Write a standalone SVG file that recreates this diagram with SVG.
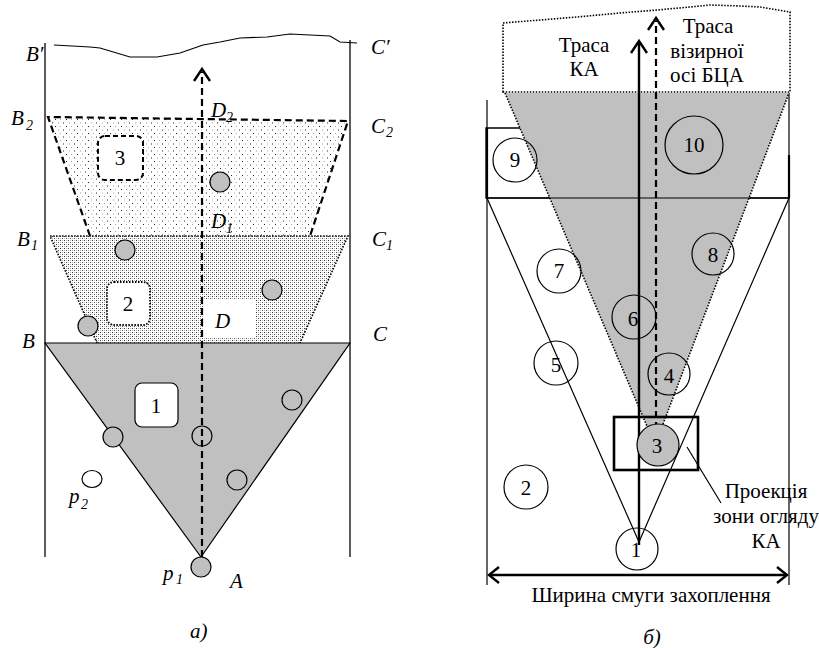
<svg xmlns="http://www.w3.org/2000/svg" width="819" height="648" viewBox="0 0 819 648">
<defs>
<style>
.t{font-family:"Times New Roman","Liberation Serif",serif;font-size:21px;fill:#000}
.it{font-style:italic}
.sub{font-style:italic;font-size:14px}
.c{text-anchor:middle}
.ln{fill:none;stroke:#000;stroke-width:1.2}
.bd{fill:none;stroke:#333;stroke-width:1.6}
.gc{fill:#c0c0c0;stroke:#000;stroke-width:1.2}
.oc{fill:none;stroke:#000;stroke-width:1.2}
.dash{fill:none;stroke:#000;stroke-width:2.2;stroke-dasharray:7 4}
.dot{fill:none;stroke:#000;stroke-width:1.6;stroke-dasharray:1.5 1.5}
.arr{fill:none;stroke:#000;stroke-width:2.4}
</style>
<pattern id="p3" width="11" height="7" patternUnits="userSpaceOnUse">
<rect width="11" height="7" fill="#fff"/>
<rect x="0" y="0" width="1" height="1" fill="#222"/>
<rect x="5" y="0" width="1" height="1" fill="#aaa"/>
<rect x="3" y="3.5" width="1" height="1" fill="#aaa"/>
<rect x="8" y="3.5" width="1" height="1" fill="#222"/>
</pattern>
<pattern id="p2" width="4" height="4" patternUnits="userSpaceOnUse">
<rect width="4" height="4" fill="#fff"/>
<rect x="0" y="0" width="1" height="1" fill="#333"/>
<rect x="2" y="2" width="1" height="1" fill="#555"/>
<rect x="2" y="0" width="1" height="1" fill="#bbb"/>
<rect x="0" y="2" width="1" height="1" fill="#bbb"/>
</pattern>
</defs>

<g id="panel-a">
<g id="a-frame">
<line class="bd" x1="45" y1="43" x2="45" y2="557"/>
<line class="bd" x1="350" y1="40" x2="350" y2="557"/>
<polyline class="ln" points="54,45 90,47 100,48 130,57 157,57 180,53 203,45 220,42 240,38 267,37 290,34 330,36 340,42 357,43"/>
</g>
<g id="zone3">
<polygon points="48,117 348,121 310,236 90,236" fill="url(#p3)"/>
<polyline class="dash" points="90,236 48,117 348,121 310,236"/>
</g>
<g id="zone2">
<polygon points="50,236 348,236 300,343 97,343" fill="url(#p2)"/>
<polyline class="dot" points="97,343 50,236 348,236 300,343"/>
<rect x="204" y="300" width="51" height="37" fill="#fff"/>
</g>
<g id="zone1">
<polygon points="45,343 350,343 201,557" fill="#c0c0c0" stroke="#000" stroke-width="1.2"/>
</g>
<g id="box3"><rect x="98" y="136" width="45" height="44" rx="7" fill="#fff" stroke="#000" stroke-width="2" stroke-dasharray="5 3"/><text class="t c" x="120" y="165">3</text></g>
<g id="box2"><rect x="107" y="282" width="43" height="43" rx="7" fill="#fff" stroke="#000" stroke-width="1.8" stroke-dasharray="1.5 1.5"/><text class="t c" x="128" y="311">2</text></g>
<g id="box1"><rect x="135" y="383" width="43" height="44" rx="7" fill="#fff" stroke="#000" stroke-width="1.2"/><text class="t c" x="156" y="413">1</text></g>
<g id="a-targets">
<circle class="gc" cx="220" cy="182" r="10"/>
<circle class="gc" cx="125" cy="250" r="10"/>
<circle class="gc" cx="272" cy="290" r="10"/>
<circle class="gc" cx="88" cy="326" r="10"/>
<circle class="gc" cx="292" cy="400" r="10"/>
<circle class="gc" cx="113" cy="437" r="10"/>
<circle class="gc" cx="202" cy="436" r="10"/>
<circle class="gc" cx="237" cy="480" r="10"/>
<ellipse cx="92" cy="479" rx="10" ry="8.5" fill="#fff" stroke="#000" stroke-width="1.2"/>
<circle class="gc" cx="201" cy="567" r="10"/>
</g>
<g id="a-connectors">
<line class="dash" x1="202" y1="557" x2="202" y2="72"/>
<polyline class="arr" points="194,81 202,69 210,81"/>
</g>
<g id="a-labels">
<text class="t it" x="26" y="61">B′</text>
<text class="t it" x="371" y="54">C′</text>
<text class="t it" x="11" y="125">B</text><text class="t sub" x="26" y="130">2</text>
<text class="t it" x="371" y="133">C</text><text class="t sub" x="386" y="137">2</text>
<text class="t it" x="211" y="117">D</text><text class="t sub" x="226" y="122">2</text>
<text class="t it" x="211" y="228">D</text><text class="t sub" x="226" y="233">1</text>
<text class="t it" x="17" y="246">B</text><text class="t sub" x="31" y="250">1</text>
<text class="t it" x="372" y="246">C</text><text class="t sub" x="386" y="250">1</text>
<text class="t it" x="215" y="328">D</text>
<text class="t it" x="22" y="348">B</text>
<text class="t it" x="373" y="341">C</text>
<text class="t it" x="69" y="503">p</text><text class="t sub" x="81" y="509">2</text>
<text class="t it" x="163" y="580">p</text><text class="t sub" x="176" y="584">1</text>
<text class="t it" x="230" y="588">A</text>
<text class="t it" x="190" y="638">a)</text>
</g>
</g>

<g id="panel-b">
<g id="b-frame">
<line class="ln" x1="487" y1="100" x2="487" y2="585"/>
<line class="ln" x1="789" y1="93" x2="789" y2="585"/>
<polyline fill="none" stroke="#000" stroke-width="1.3" points="530,128 486,128 486,198 789,198"/>
<line x1="487" y1="128" x2="487" y2="198" stroke="#000" stroke-width="2.2"/>
<line x1="789" y1="155" x2="789" y2="198" stroke="#000" stroke-width="2.2"/>
<path class="dot" d="M503,92 L503,23 L540,20 L577,17 L620,13 L657,10 L690,7 L710,5 L740,6 L760,7 L790,12 L790,92 Z"/>
</g>
<g id="view-zone">
<polygon points="505,93 789,93 655,445" fill="#c0c0c0"/>
<polyline class="dot" points="505,93 655,445 789,93"/>
</g>
<g id="swath-zone">
<polygon class="ln" points="487,198 789,198 639,542"/>
</g>
<g id="b-connectors">
<line class="arr" x1="639" y1="545" x2="639" y2="42"/>
<polyline class="arr" points="631,53 639,41 647,53"/>
<line class="dash" x1="656" y1="440" x2="656" y2="21"/>
<polyline class="arr" points="648,30 656,18 664,30"/>
<line class="ln" x1="687" y1="447" x2="721" y2="503"/>
<line class="arr" x1="489" y1="575" x2="787" y2="575"/>
<polyline class="arr" points="499,567 489,575 499,583"/>
<polyline class="arr" points="777,567 787,575 777,583"/>
</g>
<g id="proj-box"><rect x="614" y="417" width="84" height="53" fill="none" stroke="#000" stroke-width="2.6"/></g>
<g id="t10"><circle class="oc" cx="694" cy="145" r="29"/><text class="t c" x="694" y="152">10</text></g>
<g id="t9"><circle class="oc" cx="515" cy="160" r="22"/><text class="t c" x="515" y="167">9</text></g>
<g id="t8"><circle class="oc" cx="713" cy="254" r="21"/><text class="t c" x="713" y="262">8</text></g>
<g id="t7"><circle class="oc" cx="559" cy="271" r="22"/><text class="t c" x="559" y="278">7</text></g>
<g id="t6"><circle class="oc" cx="634" cy="317" r="22"/><text class="t c" x="633" y="326">6</text></g>
<g id="t5"><circle class="oc" cx="556" cy="363" r="22"/><text class="t c" x="556" y="372">5</text></g>
<g id="t4"><circle class="oc" cx="669" cy="374" r="21"/><text class="t c" x="669" y="383">4</text></g>
<g id="t3"><circle class="gc" cx="658" cy="445" r="21"/><text class="t c" x="657" y="453">3</text></g>
<g id="t2"><circle class="oc" cx="526" cy="487" r="22"/><text class="t c" x="526" y="495">2</text></g>
<g id="t1"><circle class="oc" cx="637" cy="549" r="21"/><text class="t c" x="636" y="557">1</text></g>
<g id="b-labels">
<text class="t c" x="584" y="52">Траса</text>
<text class="t c" x="584" y="76">КА</text>
<text class="t c" x="708" y="33">Траса</text>
<text class="t c" x="707" y="58">візирної</text>
<text class="t c" x="707" y="82">осі БЦА</text>
<text class="t c" x="766" y="498">Проекція</text>
<text class="t c" x="766" y="523">зони огляду</text>
<text class="t c" x="766" y="548">КА</text>
<text class="t c" x="651" y="602">Ширина смуги захоплення</text>
<text class="t c it" x="652" y="644">б)</text>
</g>
</g>
</svg>
